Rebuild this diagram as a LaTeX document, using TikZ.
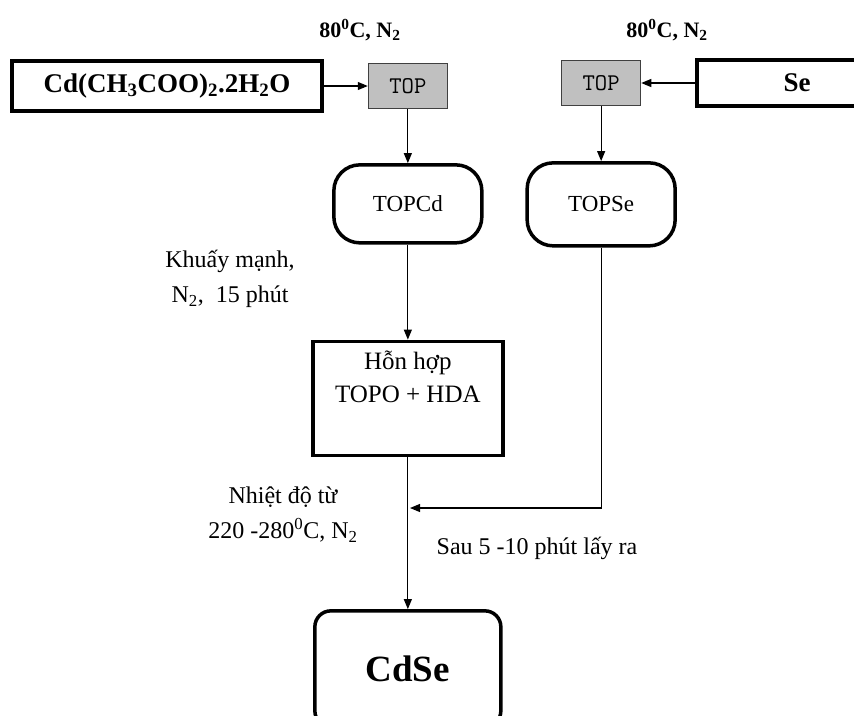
\documentclass[tikz,border=0pt]{standalone}
\usepackage{fontspec}
\setmainfont{Liberation Serif}
\usetikzlibrary{positioning, arrows.meta}
\definecolor{topgray}{HTML}{C0C0C0}

\begin{document}
\begin{tikzpicture}[
    x=1pt, y=-1pt,
    node distance=44pt,
    every node/.style={inner sep=0pt},
    inbox/.style={draw, line width=3.5pt, minimum width=310pt, minimum height=50pt, font=\fontsize{27}{32}\selectfont\bfseries},
    topbox/.style={draw=black!75, line width=1.2pt, fill=topgray, minimum width=79pt, minimum height=45pt, font=\fontsize{24}{28}\selectfont\ttfamily},
    midbox/.style={draw, line width=3.5pt, rounded corners=26pt, minimum width=148pt, minimum height=78pt, font=\fontsize{23}{28}\selectfont},
    mixbox/.style={draw, line width=3.5pt, minimum width=190pt, minimum height=114pt, align=center, font=\fontsize{25}{33}\selectfont},
    endbox/.style={draw, line width=3.5pt, rounded corners=16pt, minimum width=186pt, minimum height=116pt, font=\fontsize{37}{40}\selectfont\bfseries},
    cond/.style={align=center, font=\fontsize{22}{26}\selectfont\bfseries},
    note/.style={align=center, font=\fontsize{24}{35}\selectfont},
    arrow/.style={-{Triangle[length=10pt,width=8pt]}, line width=1.1pt}
]
\useasboundingbox (0,0) rectangle (854,715);

% left branch: cadmium
\node[inbox] (cd) at (167,86) {Cd(CH\textsubscript{3}COO)\textsubscript{2}.2H\textsubscript{2}O};
\node[topbox, right=44pt of cd] (top1) {TOP};
\node[midbox, below=54pt of top1] (topcd) {TOPCd};
\node[mixbox, below=95pt of topcd] (mix) {Hỗn hợp\\TOPO + HDA\\\strut};
\node[endbox, below=152pt of mix] (cdse) {CdSe};

% right branch: selenium
\node[inbox, minimum width=200pt, minimum height=46pt] (se) at (797,83) {Se};
\node[topbox, left=54pt of se] (top2) {TOP};
\node[midbox, minimum height=83pt, below=55pt of top2] (topse) {TOPSe};

% conditions
\node[cond] (cond1) at (360,30) {80\textsuperscript{0}C, N\textsubscript{2}};
\node[cond] (cond2) at (667,30) {80\textsuperscript{0}C, N\textsubscript{2}};
\node[note] (stir) at (230,279) {Khuấy mạnh,\\N\textsubscript{2},\ \ 15 phút};
\node[note] (heat) at (283,515) {Nhiệt độ từ\\220 -280\textsuperscript{0}C, N\textsubscript{2}};
\node[note] (wait) at (537,548) {Sau 5 -10 phút lấy ra};
\coordinate (join) at (410,508);

\draw[arrow] (cd) -- (top1);
\draw[arrow] (se) -- (top2);
\draw[arrow] (top1) -- (topcd);
\draw[arrow] (top2) -- (topse);
\draw[arrow] (topcd) -- (mix);
\draw[arrow] (mix) -- (cdse);
\draw[arrow] (topse) |- (join);
\end{tikzpicture}
\end{document}
